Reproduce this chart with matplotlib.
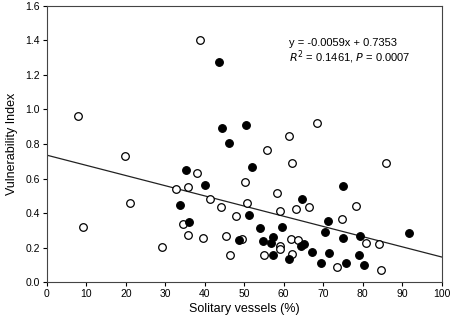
import numpy as np
import matplotlib.pyplot as plt

plt.rcParams['font.family'] = ['Liberation Sans', 'DejaVu Sans']

# open circles
open_x = [7.9, 9.1, 19.9, 21.2, 29.3, 32.6, 34.4, 35.7, 35.7, 38.0, 38.7, 39.6, 41.3, 44.1,
          45.4, 46.5, 47.9, 49.4, 50.2, 50.8, 55.0, 55.8, 58.2, 59.1, 59.1, 59.1, 61.4, 61.8,
          62.0, 62.0, 63.0, 63.7, 66.5, 68.3, 73.4, 74.8, 78.2, 80.7, 84.2, 84.6, 85.9]
open_y = [0.962, 0.32, 0.729, 0.46, 0.205, 0.539, 0.336, 0.549, 0.27, 0.63, 1.40, 0.253, 0.481, 0.433,
          0.265, 0.158, 0.381, 0.249, 0.578, 0.456, 0.158, 0.765, 0.514, 0.413, 0.21, 0.193, 0.846, 0.247,
          0.69, 0.164, 0.423, 0.243, 0.433, 0.924, 0.085, 0.367, 0.442, 0.228, 0.22, 0.071, 0.692]

# filled circles
fill_x = [33.7, 35.2, 36.1, 40.0, 43.6, 44.4, 46.2, 48.7, 50.4, 51.1, 52.0, 54.1, 54.8, 56.7,
          57.2, 57.4, 59.5, 61.4, 64.3, 64.5, 65.1, 67.2, 69.4, 70.5, 71.1, 71.4, 74.9, 74.9,
          75.8, 79.1, 79.4, 80.2, 91.7]
fill_y = [0.445, 0.649, 0.35, 0.564, 1.275, 0.894, 0.806, 0.245, 0.912, 0.388, 0.665, 0.313, 0.236, 0.224,
          0.155, 0.259, 0.319, 0.133, 0.209, 0.479, 0.222, 0.174, 0.108, 0.292, 0.356, 0.17, 0.557, 0.253,
          0.108, 0.158, 0.268, 0.1, 0.284]

slope = -0.0059
intercept = 0.7353

fig = plt.figure(figsize=(4.54, 3.25), dpi=100)
ax = fig.add_axes([0.103, 0.132, 0.870, 0.850])

line_x = np.array([0, 100])
ax.plot(line_x, slope * line_x + intercept, color='#222222', lw=0.9, zorder=1)

ax.scatter(open_x, open_y, s=30, facecolors='white', edgecolors='black', linewidths=0.9, zorder=2)
ax.scatter(fill_x, fill_y, s=30, facecolors='black', edgecolors='black', linewidths=0.9, zorder=3)

ax.text(61.3, 1.385, 'y = -0.0059x + 0.7353', fontsize=8, va='center')
ax.text(61.3, 1.30, r'$\mathit{R}^2$ = 0.1461, $\mathit{P}$ = 0.0007', fontsize=8, va='center')

ax.set_xlim(0, 100)
ax.set_ylim(0, 1.6)
ax.set_xticks(np.arange(0, 101, 10))
ax.set_yticks(np.arange(0, 1.61, 0.2))
ax.set_yticklabels(['%.1f' % v for v in np.arange(0, 1.61, 0.2)])
ax.tick_params(direction='out', length=3, width=0.8, labelsize=7.5, pad=2)
for s in ax.spines.values():
    s.set_linewidth(0.8)
    s.set_color('#444444')

ax.set_xlabel('Solitary vessels (%)', fontsize=9, labelpad=3)
ax.set_ylabel('Vulnerability Index', fontsize=9, labelpad=5)

fig.savefig('out.png', dpi=100)
